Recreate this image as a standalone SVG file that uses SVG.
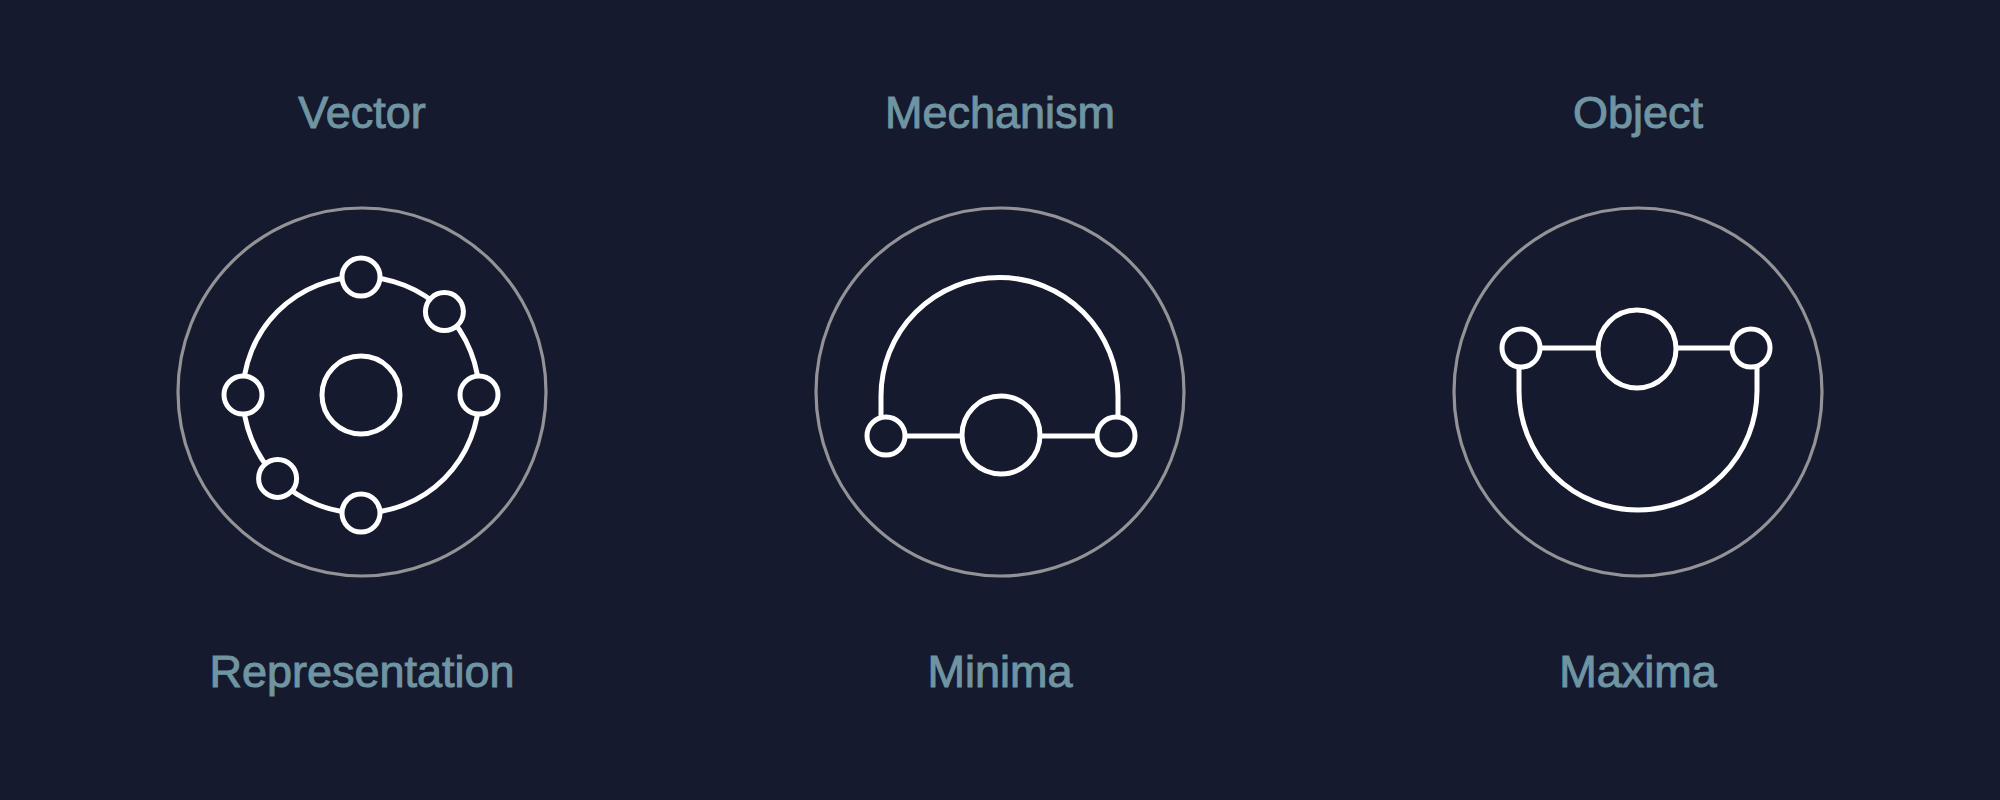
<svg xmlns="http://www.w3.org/2000/svg" width="2000" height="800" viewBox="0 0 2000 800">
<style>
.bg{fill:#151a2e}
.outer{fill:none;stroke:#939396;stroke-width:3.2}
.line{fill:none;stroke:#ffffff;stroke-width:5}
.node{fill:#151a2e;stroke:#ffffff;stroke-width:5}
.lbl{font-family:"Liberation Sans",Arial,sans-serif;font-size:45px;fill:#6f94a2;text-anchor:middle;stroke:#6f94a2;stroke-width:1}
</style>
<rect class="bg" x="0" y="0" width="2000" height="800"/>
<g id="vector">
<text class="lbl" x="362" y="128">Vector</text>
<circle class="outer" cx="362" cy="392" r="184"/>
<circle class="line" cx="361" cy="395" r="118"/>
<circle class="node" cx="361" cy="395" r="39"/>
<circle class="node" cx="361" cy="277" r="19"/>
<circle class="node" cx="444.4" cy="311.6" r="19"/>
<circle class="node" cx="479" cy="395" r="19"/>
<circle class="node" cx="243" cy="395" r="19"/>
<circle class="node" cx="277.6" cy="478.4" r="19"/>
<circle class="node" cx="361" cy="513" r="19"/>
<text class="lbl" x="362" y="687">Representation</text>
</g>
<g id="mechanism">
<text class="lbl" x="1000" y="128">Mechanism</text>
<circle class="outer" cx="1000" cy="392" r="184"/>
<g id="mechanism-connectors">
<path class="line" d="M881 418 L881 396 A118.5 118.5 0 0 1 1118 396 L1118 418"/>
<line class="line" x1="886" y1="436" x2="1116" y2="436"/>
</g>
<circle class="node" cx="886" cy="436" r="19"/>
<circle class="node" cx="1001" cy="435" r="39"/>
<circle class="node" cx="1116" cy="436" r="19"/>
<text class="lbl" x="1000" y="687">Minima</text>
</g>
<g id="object">
<text class="lbl" x="1638" y="128">Object</text>
<circle class="outer" cx="1638" cy="392" r="184"/>
<g id="object-connectors">
<path class="line" d="M1519 366 L1519 391 A119 119 0 0 0 1757 391 L1757 366"/>
<line class="line" x1="1521" y1="348" x2="1751" y2="348"/>
</g>
<circle class="node" cx="1521" cy="348" r="19"/>
<circle class="node" cx="1637" cy="349" r="39"/>
<circle class="node" cx="1751" cy="348" r="19"/>
<text class="lbl" x="1638" y="687">Maxima</text>
</g>
</svg>
